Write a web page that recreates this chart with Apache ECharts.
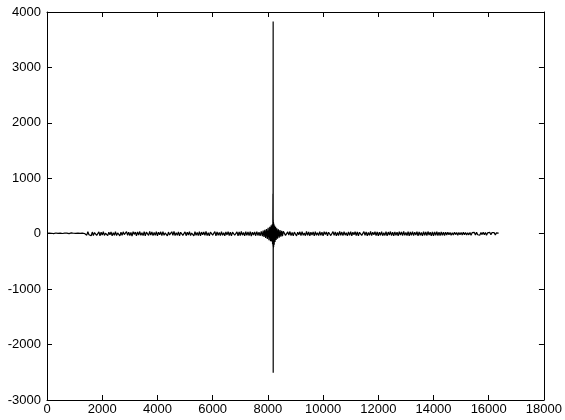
<!DOCTYPE html>
<html>
<head>
<meta charset="utf-8">
<script src="https://cdn.jsdelivr.net/npm/echarts@6/dist/echarts.min.js"></script>
<style>
html,body{margin:0;padding:0;background:#fff;}
#chart{width:565px;height:420px;}
</style>
</head>
<body>
<div id="chart"></div>
<script>
// axis tick values
var xTicks = [0, 2000, 4000, 6000, 8000, 10000, 12000, 14000, 16000, 18000];
var yTicks = [-3000, -2000, -1000, 0, 1000, 2000, 3000, 4000];

// sample spacing of the noise segments (sample index units)
var sampleStep = 40;

// noise before the spike, starting at sample 0
var noiseLeft = [
  6,-9,11,-4,8,-12,3,-7,13,-10,6,-3,10,-14,4,-8,12,-5,9,-11,2,-10,14,-6,8,-13,5,-4,11,-9,6,-12,10,-7,4,-11,
  -26,35,-18,12,-37,30,-32,21,40,-29,-15,33,-38,27,-22,36,-31,8,39,-35,28,-20,32,-40,19,-28,37,-33,14,31,
  -39,26,-30,34,-16,-36,38,-27,29,-32,22,-41,35,-12,30,-37,33,-23,39,-29,18,-34,36,-38,28,10,-31,40,-26,32,
  -35,21,-30,38,-40,27,-19,34,-33,37,-28,15,35,-39,30,-22,-32,36,-27,41,-35,20,-29,33,-38,26,39,-31,-18,34,
  -36,29,-23,37,-32,12,31,-40,35,-28,22,-33,38,-37,30,-21,32,-29,40,-34,17,-38,28,35,-26,-31,37,-39,33,
  -27,23,-35,39,-30,19,-36,32,-22,38,-33,29,-40,27,36,-28,-20,34,-37,31,-32,40,-26,21,-38,35,-29,30,-34,37,
  -41,28,-23,33,-36,39,-31,26,-39
];

// detailed samples around the spike: [sample index, value]
var spikeRegion = [
  [7760,40],[7800,-45],[7830,55],[7860,-60],[7890,70],[7920,-75],[7950,85],[7980,-95],
  [8010,105],[8040,-115],[8070,125],[8095,-135],[8120,150],[8140,-140],
  [8158,170],[8170,-190],[8180,160],[8184,720],[8187,-230],[8190,140],
  [8192,3830],[8194,-2510],[8196,250],[8199,-260],[8203,210],[8209,-240],
  [8218,180],[8230,-200],[8244,150],[8260,-150],[8280,125],[8300,-115],
  [8325,100],[8350,-90],[8380,80],[8410,-70],[8440,65],[8470,-55],
  [8500,50],[8530,-45],[8560,42]
];

// noise after the spike, starting at sample 8600
var rightStart = 8600;
var noiseRight = [
  35,-30,-38,32,-24,39,-33,22,-36,28,37,-40,29,-19,34,-32,38,-27,14,-35,
  40,-29,31,-37,26,-22,33,-39,36,-28,20,-34,38,-31,29,-40,35,-15,32,-36,
  27,39,-33,-23,37,-30,34,-38,21,-32,41,-28,30,-35,36,-26,18,-39,33,-31,
  38,-37,28,-20,35,-33,31,-40,26,39,-29,-34,37,-27,32,-38,22,-30,40,-35,
  29,-21,36,-32,33,-39,27,-28,38,-36,19,-31,35,-40,30,-23,39,-33,28,-37,
  34,-29,26,-38,37,-22,32,-35,40,-30,21,-32,36,-39,31,-27,38,-34,29,-26,
  35,-37,33,-28,22,-40,37,-31,30,-33,39,-23,27,-36,32,-38,34,-29,36,-32,
  28,-35,31,-30,26,-33,29,
  -24,26,-19,23,-27,17,-22,25,-16,21,-26,22,-18,24,-23,27,-17,20,-25,16,
  -21,24,-28,18,-15,23,-22,26,-19,17,-24,21,-16,25,-18,22,-26,15,-20,23,
  -17,21,-14,19,-22,16,-13,12
];

var data = [];
noiseLeft.forEach(function (v, i) { data.push([i * sampleStep, v]); });
spikeRegion.forEach(function (p) { data.push([p[0], p[1]]); });
noiseRight.forEach(function (v, i) { data.push([rightStart + i * sampleStep, v]); });

var font = 'Liberation Sans, Arial, Helvetica, sans-serif';
function plain(v) { return String(v); }
var axisCommon = {
  axisLine: { show: true, onZero: false, lineStyle: { color: '#000', width: 1 } },
  axisTick: { show: true, inside: true, length: 5, lineStyle: { color: '#000' } },
  splitLine: { show: false }
};

var chart = echarts.init(document.getElementById('chart'), null, { renderer: 'canvas' });
chart.setOption({
  animation: false,
  backgroundColor: '#fff',
  grid: { left: 47, right: 20, top: 12, bottom: 20, containLabel: false },
  xAxis: [
    Object.assign({
      type: 'value', position: 'bottom',
      min: xTicks[0], max: xTicks[xTicks.length - 1], interval: 2000,
      axisLabel: { color: '#000', fontFamily: font, fontSize: 13, margin: 3, formatter: plain }
    }, axisCommon),
    Object.assign({
      type: 'value', position: 'top',
      min: xTicks[0], max: xTicks[xTicks.length - 1], interval: 2000,
      axisLabel: { show: false }
    }, axisCommon)
  ],
  yAxis: [
    Object.assign({
      type: 'value', position: 'left',
      min: yTicks[0], max: yTicks[yTicks.length - 1], interval: 1000,
      axisLabel: { color: '#000', fontFamily: font, fontSize: 13, margin: 6, formatter: plain }
    }, axisCommon),
    Object.assign({
      type: 'value', position: 'right',
      min: yTicks[0], max: yTicks[yTicks.length - 1], interval: 1000,
      axisLabel: { show: false }
    }, axisCommon)
  ],
  series: [{
    type: 'line',
    data: data,
    xAxisIndex: 0,
    yAxisIndex: 0,
    showSymbol: false,
    symbol: 'none',
    sampling: null,
    lineStyle: { color: '#000', width: 1.2 }
  }]
});
</script>
</body>
</html>
